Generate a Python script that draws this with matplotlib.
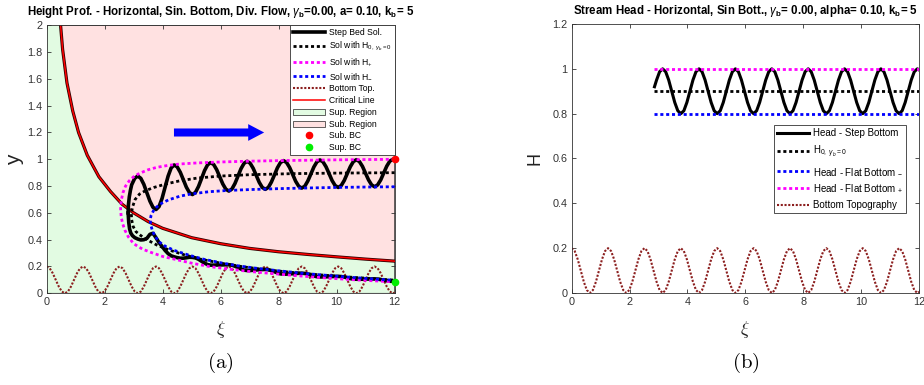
"""Height profile and stream head over a sinusoidal bed (divergent flow)."""

import matplotlib

matplotlib.use("Agg")
import matplotlib.pyplot as plt
import numpy as np
from matplotlib.patches import Polygon
from matplotlib.ticker import FuncFormatter, MultipleLocator

# sample positions: 12 samples per bed wavelength (k_b = 5), plus the end of the domain
XI = np.arange(115) * np.pi / 30
XI_END = 12.0

# bottom topography b(xi), on XI then at XI_END
BOTTOM = [
    0.200, 0.187, 0.150, 0.100, 0.050, 0.013, 0.000, 0.013, 0.050, 0.100, 0.150, 0.187,
    0.200, 0.187, 0.150, 0.100, 0.050, 0.013, 0.000, 0.013, 0.050, 0.100, 0.150, 0.187,
    0.200, 0.187, 0.150, 0.100, 0.050, 0.013, 0.000, 0.013, 0.050, 0.100, 0.150, 0.187,
    0.200, 0.187, 0.150, 0.100, 0.050, 0.013, 0.000, 0.013, 0.050, 0.100, 0.150, 0.187,
    0.200, 0.187, 0.150, 0.100, 0.050, 0.013, 0.000, 0.013, 0.050, 0.100, 0.150, 0.187,
    0.200, 0.187, 0.150, 0.100, 0.050, 0.013, 0.000, 0.013, 0.050, 0.100, 0.150, 0.187,
    0.200, 0.187, 0.150, 0.100, 0.050, 0.013, 0.000, 0.013, 0.050, 0.100, 0.150, 0.187,
    0.200, 0.187, 0.150, 0.100, 0.050, 0.013, 0.000, 0.013, 0.050, 0.100, 0.150, 0.187,
    0.200, 0.187, 0.150, 0.100, 0.050, 0.013, 0.000, 0.013, 0.050, 0.100, 0.150, 0.187,
    0.200, 0.187, 0.150, 0.100, 0.050, 0.013, 0.000,
]
BOTTOM_END = 0.005

# critical depth line
CRIT_XI = [0.46, 0.55, 0.70, 0.90, 1.10, 1.40, 1.80, 2.20, 2.60, 3.00,
           3.50, 4.00, 5.00, 6.00, 7.00, 8.00, 9.00, 10.0, 11.0, 12.0]
CRIT_Y = [2.05, 1.82, 1.57, 1.36, 1.20, 1.03, 0.87, 0.76, 0.665, 0.60,
          0.535, 0.485, 0.415, 0.37, 0.335, 0.31, 0.29, 0.272, 0.255, 0.24]

# flat-bed solutions, traced from the subcritical end round the turning point to the supercritical end
HP_XI = [12.0, 11.0, 10.0, 9.0, 8.0, 7.0, 6.0, 5.2, 4.6, 4.2, 3.8, 3.5, 3.2, 3.0, 2.85, 2.72,
         2.63, 2.57, 2.55, 2.57, 2.62, 2.70, 2.82, 3.0, 3.3, 3.6, 4.0, 4.5, 5.0, 5.6, 6.3,
         7.0, 7.8, 8.7, 9.6, 10.5, 11.3, 12.0]
HP_Y = [1.0, 0.998, 0.996, 0.993, 0.99, 0.986, 0.98, 0.973, 0.965, 0.955, 0.94, 0.922,
        0.895, 0.87, 0.84, 0.80, 0.75, 0.69, 0.63, 0.57, 0.52, 0.47, 0.42, 0.37, 0.33,
        0.305, 0.275, 0.25, 0.225, 0.20, 0.18, 0.163, 0.147, 0.13, 0.115, 0.102, 0.093, 0.085]

HM_XI = [12.0, 11.0, 10.0, 9.0, 8.0, 7.0, 6.2, 5.6, 5.0, 4.6, 4.2, 3.95, 3.8, 3.68, 3.60,
         3.57, 3.59, 3.65, 3.75, 3.9, 4.1, 4.4, 4.9, 5.4, 6.0, 6.6, 7.3, 8.0, 8.8, 9.6,
         10.4, 11.2, 12.0]
HM_Y = [0.795, 0.793, 0.79, 0.786, 0.781, 0.774, 0.767, 0.758, 0.742, 0.725, 0.697, 0.67,
        0.645, 0.615, 0.58, 0.547, 0.51, 0.465, 0.42, 0.38, 0.35, 0.32, 0.285, 0.255,
        0.228, 0.205, 0.185, 0.168, 0.15, 0.135, 0.121, 0.108, 0.097]

H0_XI = [12.0, 10.0, 8.5, 7.0, 6.0, 5.2, 4.6, 4.1, 3.7, 3.4, 3.2, 3.05, 2.97, 2.92, 2.93,
         2.98, 3.08, 3.25, 3.5, 3.8, 4.2, 4.7, 5.3, 6.0, 6.8, 7.6, 8.5, 9.4, 10.3, 11.2, 12.0]
H0_Y = [0.90, 0.897, 0.893, 0.885, 0.875, 0.86, 0.84, 0.815, 0.79, 0.765, 0.74, 0.70,
        0.65, 0.60, 0.55, 0.50, 0.46, 0.43, 0.395, 0.36, 0.325, 0.29, 0.255, 0.225, 0.197,
        0.175, 0.155, 0.138, 0.123, 0.11, 0.098]

# step-bed solution, subcritical branch: lead-in near the turning point, then XI[28:], then XI_END
STEP_UP_LEAD_XI = [2.81, 2.82, 2.85, 2.89]
STEP_UP_LEAD_Y = [0.60, 0.66, 0.72, 0.77]
STEP_UP_Y = [
    0.810, 0.858, 0.875, 0.858, 0.813, 0.750, 0.688, 0.642,
    0.625, 0.647, 0.708, 0.792, 0.875, 0.936, 0.958, 0.943, 0.903, 0.848, 0.792, 0.752,
    0.737, 0.753, 0.797, 0.856, 0.916, 0.959, 0.975, 0.961, 0.922, 0.869, 0.816, 0.777,
    0.763, 0.778, 0.819, 0.874, 0.930, 0.970, 0.985, 0.971, 0.933, 0.881, 0.828, 0.790,
    0.776, 0.790, 0.830, 0.883, 0.937, 0.976, 0.990, 0.976, 0.939, 0.888, 0.836, 0.799,
    0.785, 0.799, 0.838, 0.890, 0.943, 0.981, 0.995, 0.981, 0.944, 0.893, 0.841, 0.804,
    0.790, 0.804, 0.842, 0.894, 0.945, 0.983, 0.997, 0.983, 0.947, 0.896, 0.846, 0.809,
    0.795, 0.809, 0.846, 0.898, 0.949, 0.986, 1.000,
]
STEP_UP_END = 0.998

# step-bed solution, supercritical branch: lead-in, then XI[30:], then XI_END
STEP_LOW_LEAD_XI = [2.81, 2.83, 2.86, 2.90, 2.96, 3.04]
STEP_LOW_LEAD_Y = [0.60, 0.53, 0.48, 0.45, 0.43, 0.415]
STEP_LOW_Y = [
    0.405, 0.398, 0.400, 0.410, 0.440, 0.448,
    0.415, 0.378, 0.350, 0.320, 0.296, 0.280, 0.272, 0.266, 0.262, 0.262, 0.265, 0.269,
    0.268, 0.264, 0.254, 0.239, 0.225, 0.214, 0.210, 0.210, 0.211, 0.211, 0.212, 0.213,
    0.213, 0.210, 0.202, 0.192, 0.181, 0.173, 0.170, 0.170, 0.172, 0.174, 0.176, 0.177,
    0.178, 0.176, 0.169, 0.161, 0.152, 0.145, 0.143, 0.143, 0.145, 0.146, 0.148, 0.149,
    0.150, 0.148, 0.143, 0.136, 0.129, 0.124, 0.122, 0.122, 0.123, 0.124, 0.125, 0.126,
    0.126, 0.125, 0.121, 0.115, 0.110, 0.106, 0.105, 0.105, 0.105, 0.106, 0.106, 0.107,
    0.107, 0.106, 0.102, 0.098, 0.094, 0.090, 0.089,
]
STEP_LOW_END = 0.088

SUB_BC = (12.0, 1.0)
SUP_BC = (12.0, 0.088)

# stream head: step bed (lead-in point, then XI[28:], then XI_END) and flat-bed levels
HEAD_LEAD_XI = [2.86]
HEAD_LEAD_Y = [0.92]
HEAD_STEP = [
    0.950, 0.987, 1.000, 0.987, 0.950, 0.900, 0.850, 0.813,
    0.800, 0.813, 0.850, 0.900, 0.950, 0.987, 1.000, 0.987, 0.950, 0.900, 0.850, 0.813,
    0.800, 0.813, 0.850, 0.900, 0.950, 0.987, 1.000, 0.987, 0.950, 0.900, 0.850, 0.813,
    0.800, 0.813, 0.850, 0.900, 0.950, 0.987, 1.000, 0.987, 0.950, 0.900, 0.850, 0.813,
    0.800, 0.813, 0.850, 0.900, 0.950, 0.987, 1.000, 0.987, 0.950, 0.900, 0.850, 0.813,
    0.800, 0.813, 0.850, 0.900, 0.950, 0.987, 1.000, 0.987, 0.950, 0.900, 0.850, 0.813,
    0.800, 0.813, 0.850, 0.900, 0.950, 0.987, 1.000, 0.987, 0.950, 0.900, 0.850, 0.813,
    0.800, 0.813, 0.850, 0.900, 0.950, 0.987, 1.000,
]
HEAD_STEP_END = 0.995
HEAD_FLAT_XI = [2.86, 12.0]
HEAD_FLAT_PLUS = [1.0, 1.0]
HEAD_FLAT_MINUS = [0.8, 0.8]
HEAD_ZERO = [0.9, 0.9]

MAGENTA = "#ff00ff"
BLUE = "#0000ff"
BROWN = "#8c1f1f"
RED = "#ff0000"
AX_COL = "#333333"
DOTS = (0, (1.1, 1.0))


def on_grid(lead_xi, lead_y, vals, end_y):
    xi = list(lead_xi) + list(XI[len(XI) - len(vals):]) + [XI_END]
    y = list(lead_y) + list(vals) + [end_y]
    return xi, y


def setup_style() -> None:
    plt.rcParams["font.family"] = ["Liberation Sans", "DejaVu Sans"]
    plt.rcParams["mathtext.fontset"] = "custom"
    plt.rcParams["mathtext.rm"] = "Liberation Sans"
    plt.rcParams["mathtext.it"] = "Liberation Sans:italic"
    plt.rcParams["mathtext.bf"] = "Liberation Sans:bold"


def style_axes(ax, ytop):
    ax.set_xlim(0, 12)
    ax.set_ylim(0, ytop)
    ax.xaxis.set_major_locator(MultipleLocator(2))
    ax.yaxis.set_major_locator(MultipleLocator(0.2))
    fmt = FuncFormatter(lambda v, _: f"{v:g}")
    ax.xaxis.set_major_formatter(fmt)
    ax.yaxis.set_major_formatter(fmt)
    ax.tick_params(direction="in", top=True, right=True, length=3, width=0.6,
                   labelsize=7.8, colors=AX_COL, pad=3)
    for s in ax.spines.values():
        s.set_color(AX_COL)
        s.set_linewidth(0.6)
    ax.set_xlabel(r"$\xi$", fontsize=13, math_fontfamily="cm", color="#222222")
    ax.xaxis.set_label_coords(0.5, -0.095)


def draw_height(ax):
    bottom_xi = list(XI) + [XI_END]
    bottom_y = BOTTOM + [BOTTOM_END]

    sup = Polygon([(0, 0), (0, CRIT_Y[0])] + list(zip(CRIT_XI, CRIT_Y)) + [(12, 0)],
                  closed=True, facecolor="#e2fbe2", edgecolor="#222222", lw=0.5,
                  label="Sup. Region", zorder=0)
    sub = Polygon(list(zip(CRIT_XI, CRIT_Y)) + [(12, 2.0), (CRIT_XI[0], 2.0)],
                  closed=True, facecolor="#ffe1e1", edgecolor="#222222", lw=0.5,
                  label="Sub. Region", zorder=0)
    ax.add_patch(sup)
    ax.add_patch(sub)

    ax.plot(CRIT_XI, CRIT_Y, color="#300000", lw=2.3, zorder=1)
    crit, = ax.plot(CRIT_XI, CRIT_Y, color=RED, lw=1.1, zorder=1.1, label="Critical Line")

    bot, = ax.plot(bottom_xi, bottom_y, color=BROWN, lw=1.5, ls=(0, (1.0, 0.8)),
                   label="Bottom Top.", zorder=2)

    ux, uy = on_grid(STEP_UP_LEAD_XI, STEP_UP_LEAD_Y, STEP_UP_Y, STEP_UP_END)
    lx, ly = on_grid(STEP_LOW_LEAD_XI, STEP_LOW_LEAD_Y, STEP_LOW_Y, STEP_LOW_END)
    step, = ax.plot(ux, uy, color="black", lw=2.6, label="Step Bed Sol.", zorder=3)
    ax.plot(lx, ly, color="black", lw=2.6, zorder=3)

    h0, = ax.plot(H0_XI, H0_Y, color="black", lw=2.0, ls=DOTS,
                  label=r"Sol with $\mathrm{H}_{0,\ \gamma_{b}=0}$", zorder=4)
    hp, = ax.plot(HP_XI, HP_Y, color=MAGENTA, lw=2.0, ls=DOTS,
                  label=r"Sol with $\mathrm{H}_{+}$", zorder=4)
    hm, = ax.plot(HM_XI, HM_Y, color=BLUE, lw=2.0, ls=DOTS,
                  label=r"Sol with $\mathrm{H}_{-}$", zorder=4)

    ax.arrow(4.39, 1.2, 3.11, 0, width=0.06, head_width=0.125, head_length=0.55,
             length_includes_head=True, color=BLUE, lw=0, zorder=5)

    sbc, = ax.plot(*SUB_BC, "o", color=RED, ms=4.5, clip_on=False, zorder=6, label="Sub. BC")
    pbc, = ax.plot(*SUP_BC, "o", color="#00ee00", ms=4.5, clip_on=False, zorder=6,
                   label="Sup. BC")

    style_axes(ax, 2.0)
    ax.set_ylabel("y", fontsize=15, color="#222222")
    ax.yaxis.set_label_coords(-0.066, 0.5)
    ax.set_title(r"Height Prof. - Horizontal, Sin. Bottom, Div. Flow, "
                 r"$\gamma_{\mathbf{b}}$=0.00, a= 0.10, $\mathbf{k}_{\mathbf{b}}$= 5",
                 fontsize=8.3, fontweight="bold", pad=7.2)
    leg = ax.legend(handles=[step, h0, hp, hm, bot, crit, sup, sub, sbc, pbc],
                    loc="upper right", bbox_to_anchor=(1, 1), borderaxespad=0,
                    fontsize=6.2, handlelength=3.7, handletextpad=0.4, labelspacing=0.33,
                    borderpad=0.35, fancybox=False, framealpha=1, edgecolor=AX_COL)
    leg.get_frame().set_linewidth(0.6)
    leg.set_zorder(10)


def draw_head(ax):
    hx, hy = on_grid(HEAD_LEAD_XI, HEAD_LEAD_Y, HEAD_STEP, HEAD_STEP_END)
    step, = ax.plot(hx, hy, color="black", lw=2.2, label="Head - Step Bottom", zorder=3)
    h0, = ax.plot(HEAD_FLAT_XI, HEAD_ZERO, color="black", lw=2.0, ls=DOTS,
                  label=r"$\mathrm{H}_{0,\ \gamma_{b}=0}$", zorder=4)
    hm, = ax.plot(HEAD_FLAT_XI, HEAD_FLAT_MINUS, color=BLUE, lw=2.0, ls=DOTS,
                  label=r"Head - Flat Bottom ${}_{-}$", zorder=4)
    hp, = ax.plot(HEAD_FLAT_XI, HEAD_FLAT_PLUS, color=MAGENTA, lw=2.0, ls=DOTS,
                  label=r"Head - Flat Bottom ${}_{+}$", zorder=4)
    bot, = ax.plot(list(XI) + [XI_END], BOTTOM + [BOTTOM_END], color=BROWN, lw=1.5,
                   ls=(0, (1.0, 0.8)), label="Bottom Topography", zorder=2)

    style_axes(ax, 1.2)
    ax.set_ylabel("H", fontsize=13, color="#222222")
    ax.yaxis.set_label_coords(-0.082, 0.5)
    ax.set_title(r"Stream Head - Horizontal, Sin Bott., $\gamma_{\mathbf{b}}$= 0.00, "
                 r"alpha= 0.10, $\mathbf{k}_{\mathbf{b}}$= 5",
                 fontsize=8.3, fontweight="bold", pad=7.2)
    leg = ax.legend(handles=[step, h0, hm, hp, bot], loc="upper right",
                    bbox_to_anchor=(0.963, 0.6245), borderaxespad=0, fontsize=7,
                    handlelength=3.3, handletextpad=0.4, labelspacing=0.62, borderpad=0.3,
                    fancybox=False, framealpha=1, edgecolor=AX_COL)
    leg.get_frame().set_linewidth(0.6)


def main() -> None:
    setup_style()
    fig = plt.figure(figsize=(9.24, 3.85), dpi=100)
    ax_a = fig.add_axes([0.0505, 0.2382, 0.3766, 0.6961])
    ax_b = fig.add_axes([0.6187, 0.2390, 0.3760, 0.6987])
    draw_height(ax_a)
    draw_head(ax_b)
    for x, tag in [(0.2389, "(a)"), (0.8072, "(b)")]:
        fig.text(x, 0.057, r"$\mathrm{" + tag + "}$", fontsize=15, ha="center", va="center",
                 math_fontfamily="cm")
    fig.savefig("out.png", dpi=100)
    plt.close(fig)


if __name__ == "__main__":
    main()
